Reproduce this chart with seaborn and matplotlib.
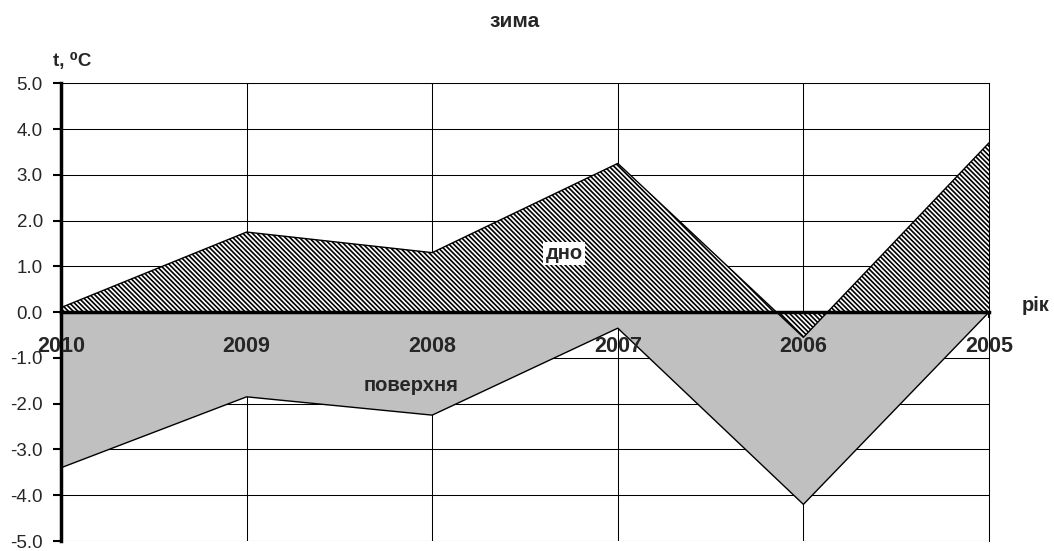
import matplotlib
matplotlib.use("Agg")
import matplotlib.pyplot as plt
import numpy as np
import pandas as pd
import seaborn as sns

# Winter water temperature by year (°C)
years = ["2010", "2009", "2008", "2007", "2006", "2005"]
bottom_temp = [0.1, 1.75, 1.3, 3.25, -0.55, 3.7]      # дно
surface_temp = [-3.4, -1.85, -2.25, -0.35, -4.2, 0.0]  # поверхня
y_ticks = [-5.0, -4.0, -3.0, -2.0, -1.0, 0.0, 1.0, 2.0, 3.0, 4.0, 5.0]

df = pd.DataFrame({
    "pos": np.arange(len(years)),
    "year": years,
    "bottom": bottom_temp,
    "surface": surface_temp,
})

sns.set_theme(style="white")
plt.rcParams["font.family"] = ["Liberation Sans", "DejaVu Sans"]
plt.rcParams["axes.unicode_minus"] = False
plt.rcParams["hatch.linewidth"] = 1.2

W, H = 1054, 551
fig = plt.figure(figsize=(W / 100, H / 100), dpi=100)
x0, x1, ytop, ybot = 61, 989, 83.3, 541
ax = fig.add_axes([x0 / W, 1 - ybot / H, (x1 - x0) / W, (ybot - ytop) / H])

# surface layer: grey area between zero and the surface temperature
ax.fill_between(df["pos"], 0, df["surface"], facecolor="#c0c0c0",
                edgecolor="none", zorder=2)
sns.lineplot(data=df, x="pos", y="surface", color="black", lw=1.0,
             ax=ax, zorder=3, legend=False)

# bottom layer: hatched area drawn on top
ax.fill_between(df["pos"], 0, df["bottom"], facecolor="white",
                edgecolor="black", hatch="\\" * 7, lw=0, zorder=4)
sns.lineplot(data=df, x="pos", y="bottom", color="black", lw=1.0,
             ax=ax, zorder=5, legend=False)

ax.set_xlim(0, len(years) - 1)
ax.set_ylim(-5, 5)
ax.set_xlabel("")
ax.set_ylabel("")

# grid
ax.set_axisbelow(True)
ax.grid(True, color="black", lw=0.75)

# spines: thick y axis on the left, thick x axis through zero
for s in ["top", "right"]:
    ax.spines[s].set_visible(True)
    ax.spines[s].set_color("black")
    ax.spines[s].set_linewidth(0.75)
ax.spines["left"].set_color("black")
ax.spines["left"].set_linewidth(2.5)
ax.spines["bottom"].set_position(("data", 0))
ax.spines["bottom"].set_color("black")
ax.spines["bottom"].set_linewidth(2.5)
ax.spines["bottom"].set_zorder(6)
ax.spines["left"].set_zorder(6)

ax.set_xticks(df["pos"])
ax.set_xticklabels([])
ax.set_yticks(y_ticks)
ax.set_yticklabels([f"{v:.1f}" for v in y_ticks], fontsize=13.5)
ax.tick_params(axis="x", direction="out", length=4, width=1.5,
               color="black", bottom=True)
ax.tick_params(axis="y", direction="out", length=6, width=1.5,
               color="black", pad=7, left=True)

# year labels sit just under the zero line, above the filled areas
for p, yr in zip(df["pos"], df["year"]):
    ax.text(p, -0.867, yr, fontsize=15.5, fontweight="bold", ha="center",
            va="baseline", zorder=9, clip_on=False)

# series labels
ax.text(2.71, 1.16, "дно", fontsize=14.5, fontweight="bold", ha="center",
        va="baseline", zorder=8,
        bbox=dict(facecolor="white", edgecolor="none", pad=1.5))
ax.text(1.886, -1.72, "поверхня", fontsize=14.5, fontweight="bold",
        ha="center", va="baseline", zorder=8)

# title and axis captions
fig.text(515 / W, 1 - 26.7 / H, "зима", fontsize=15, fontweight="bold",
         ha="center", va="baseline")
fig.text(53 / W, 1 - 66 / H, "t, ⁰C", fontsize=13.5, fontweight="bold",
         ha="left", va="baseline")
fig.text(1022 / W, 1 - 311 / H, "рік", fontsize=14.5, fontweight="bold",
         ha="left", va="baseline")

fig.savefig("out.png", dpi=100)
